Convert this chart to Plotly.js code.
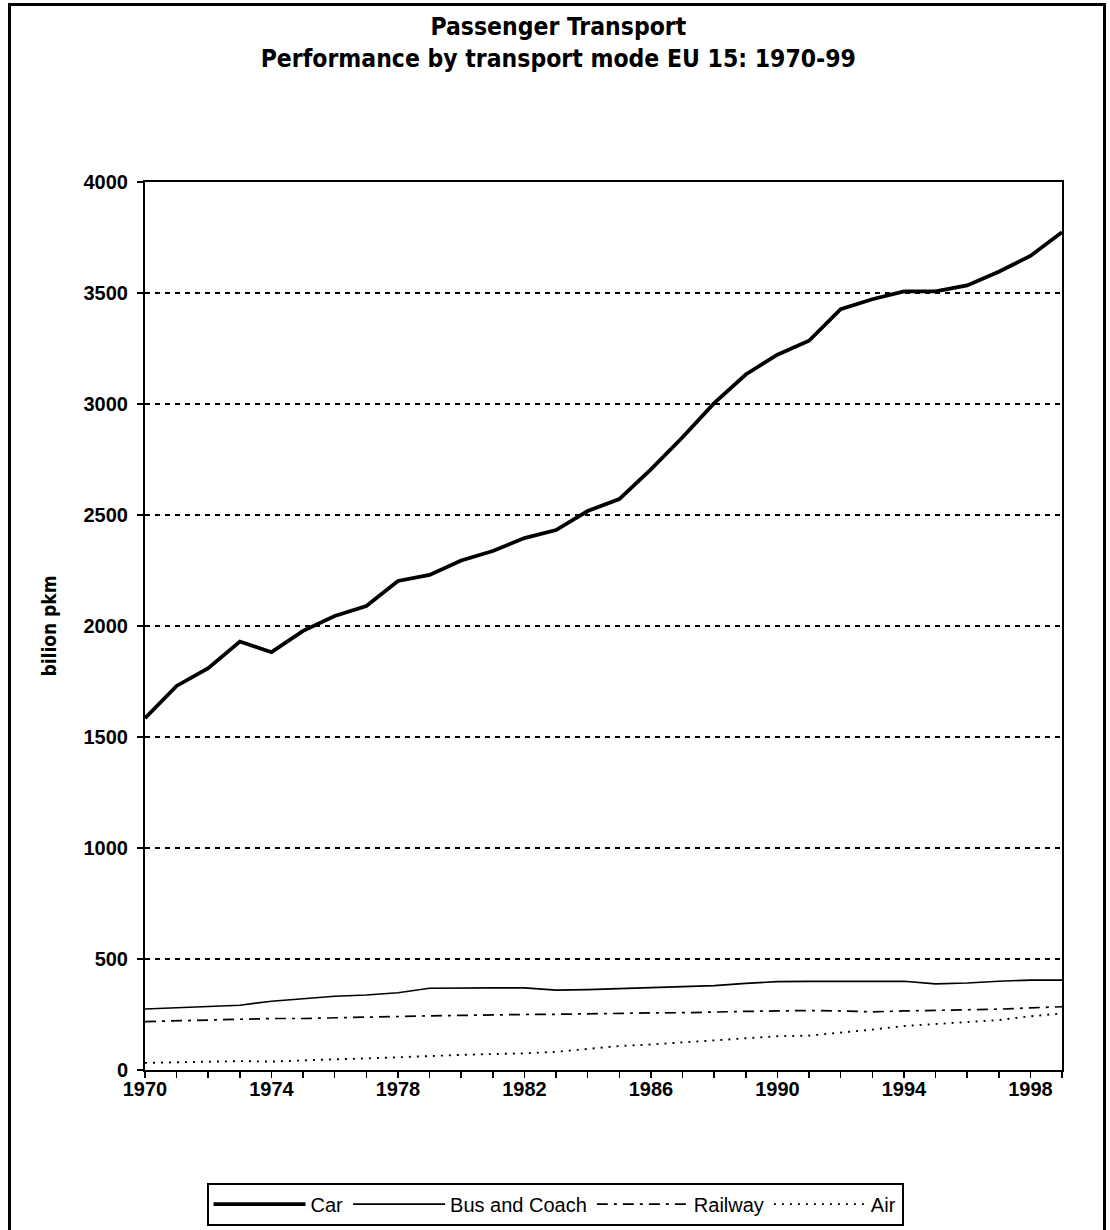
<!DOCTYPE html>
<html>
<head>
<meta charset="utf-8">
<script src="https://cdn.plot.ly/plotly-3.0.1.min.js"></script>
<style>
  html, body { margin: 0; padding: 0; background: #ffffff; overflow: hidden; }
  #chart { position: absolute; left: 0; top: 0; width: 1110px; height: 1230px; }
  #frame { position: absolute; left: 8px; top: 3px; width: 1092px; height: 1300px;
           border: 3px solid #000; pointer-events: none; }
</style>
</head>
<body>
<div id="chart"></div>
<div id="frame"></div>
<script>
// Years (categories)
const years = [1970,1971,1972,1973,1974,1975,1976,1977,1978,1979,
               1980,1981,1982,1983,1984,1985,1986,1987,1988,1989,
               1990,1991,1992,1993,1994,1995,1996,1997,1998,1999];

// billion pkm
const car = [1585,1730,1810,1930,1882,1978,2045,2090,2203,2230,
             2295,2338,2396,2432,2518,2572,2706,2850,3004,3133,
             3222,3285,3427,3472,3507,3507,3534,3596,3667,3774];

const busCoach = [275,280,288,292,310,322,332,338,348,368,
                  370,370,370,360,362,366,372,376,380,390,
                  398,399,399,400,400,388,392,400,405,405];

const railway = [218,222,225,228,232,232,236,238,241,244,
                 247,250,250,251,254,256,257,258,262,264,
                 266,268,266,262,266,268,270,274,280,285];

const air = [32,35,38,40,38,44,48,52,58,64,
             68,72,75,82,95,108,115,124,135,145,
             152,155,168,182,198,208,218,225,242,255];

const seriesNames = ["Car", "Bus and Coach", "Railway", "Air"];
const yTickVals = [0,500,1000,1500,2000,2500,3000,3500,4000];
const xTickVals = [1970,1974,1978,1982,1986,1990,1994,1998];

const titleText = "Passenger Transport<br>Performance by transport mode EU 15: 1970-99";
const yTitle = "bilion pkm";

const narrow = "Liberation Sans Narrow, Arial Narrow, DejaVu Sans Condensed, sans-serif";
const sans = "Liberation Sans, Arial, sans-serif";

const traces = [
  { x: years, y: car, name: seriesNames[0], mode: "lines",
    line: { color: "#000", width: 3.8 } },
  { x: years, y: busCoach, name: seriesNames[1], mode: "lines",
    line: { color: "#000", width: 1.6 } },
  { x: years, y: railway, name: seriesNames[2], mode: "lines",
    line: { color: "#000", width: 1.7, dash: "11px,6px,3px,6px" } },
  { x: years, y: air, name: seriesNames[3], mode: "lines",
    line: { color: "#000", width: 1.9, dash: "2px,6px" } }
];

const layout = {
  width: 1110, height: 1230,
  paper_bgcolor: "#ffffff", plot_bgcolor: "#ffffff",
  margin: { l: 145, r: 48, t: 182, b: 160 },
  title: {
    text: titleText,
    font: { family: narrow, size: 24.5, color: "#000", weight: "bold" },
    xref: "container", x: 0.503, xanchor: "center",
    yref: "container", y: 0.9715, yanchor: "middle"
  },
  xaxis: {
    range: [1970, 1999],
    tickmode: "array", tickvals: xTickVals,
    ticks: "outside", ticklen: 6, tickwidth: 1.5, tickcolor: "#000",
    minor: { dtick: 1, tick0: 1970, ticks: "outside", ticklen: 6, tickwidth: 1.5, tickcolor: "#000", showgrid: false },
    ticklabelstandoff: -6,
    showgrid: false, zeroline: false,
    showline: true, linecolor: "#000", linewidth: 2, mirror: true,
    tickfont: { family: sans, size: 20, color: "#000", weight: "bold" },
    fixedrange: true
  },
  yaxis: {
    range: [0, 4000],
    tickmode: "array", tickvals: yTickVals,
    ticks: "outside", ticklen: 6, tickwidth: 1.5, tickcolor: "#000",
    ticklabelstandoff: 5,
    showgrid: true, gridcolor: "#000", gridwidth: 1.6, griddash: "5px,5px",
    zeroline: false,
    showline: true, linecolor: "#000", linewidth: 2, mirror: true,
    tickfont: { family: sans, size: 20, color: "#000", weight: "bold" },
    title: { text: yTitle, font: { family: narrow, size: 19, color: "#000", weight: "bold" }, standoff: 22 },
    fixedrange: true
  },
  showlegend: true,
  legend: {
    orientation: "h",
    xref: "container", x: 0.5, xanchor: "center",
    yref: "container", y: 0.0385, yanchor: "top",
    bgcolor: "#ffffff", bordercolor: "#000", borderwidth: 2,
    font: { family: sans, size: 20, color: "#000" },
    itemwidth: 92, tracegroupgap: 0
  }
};

Plotly.newPlot("chart", traces, layout, { staticPlot: true, displayModeBar: false });
</script>
</body>
</html>
